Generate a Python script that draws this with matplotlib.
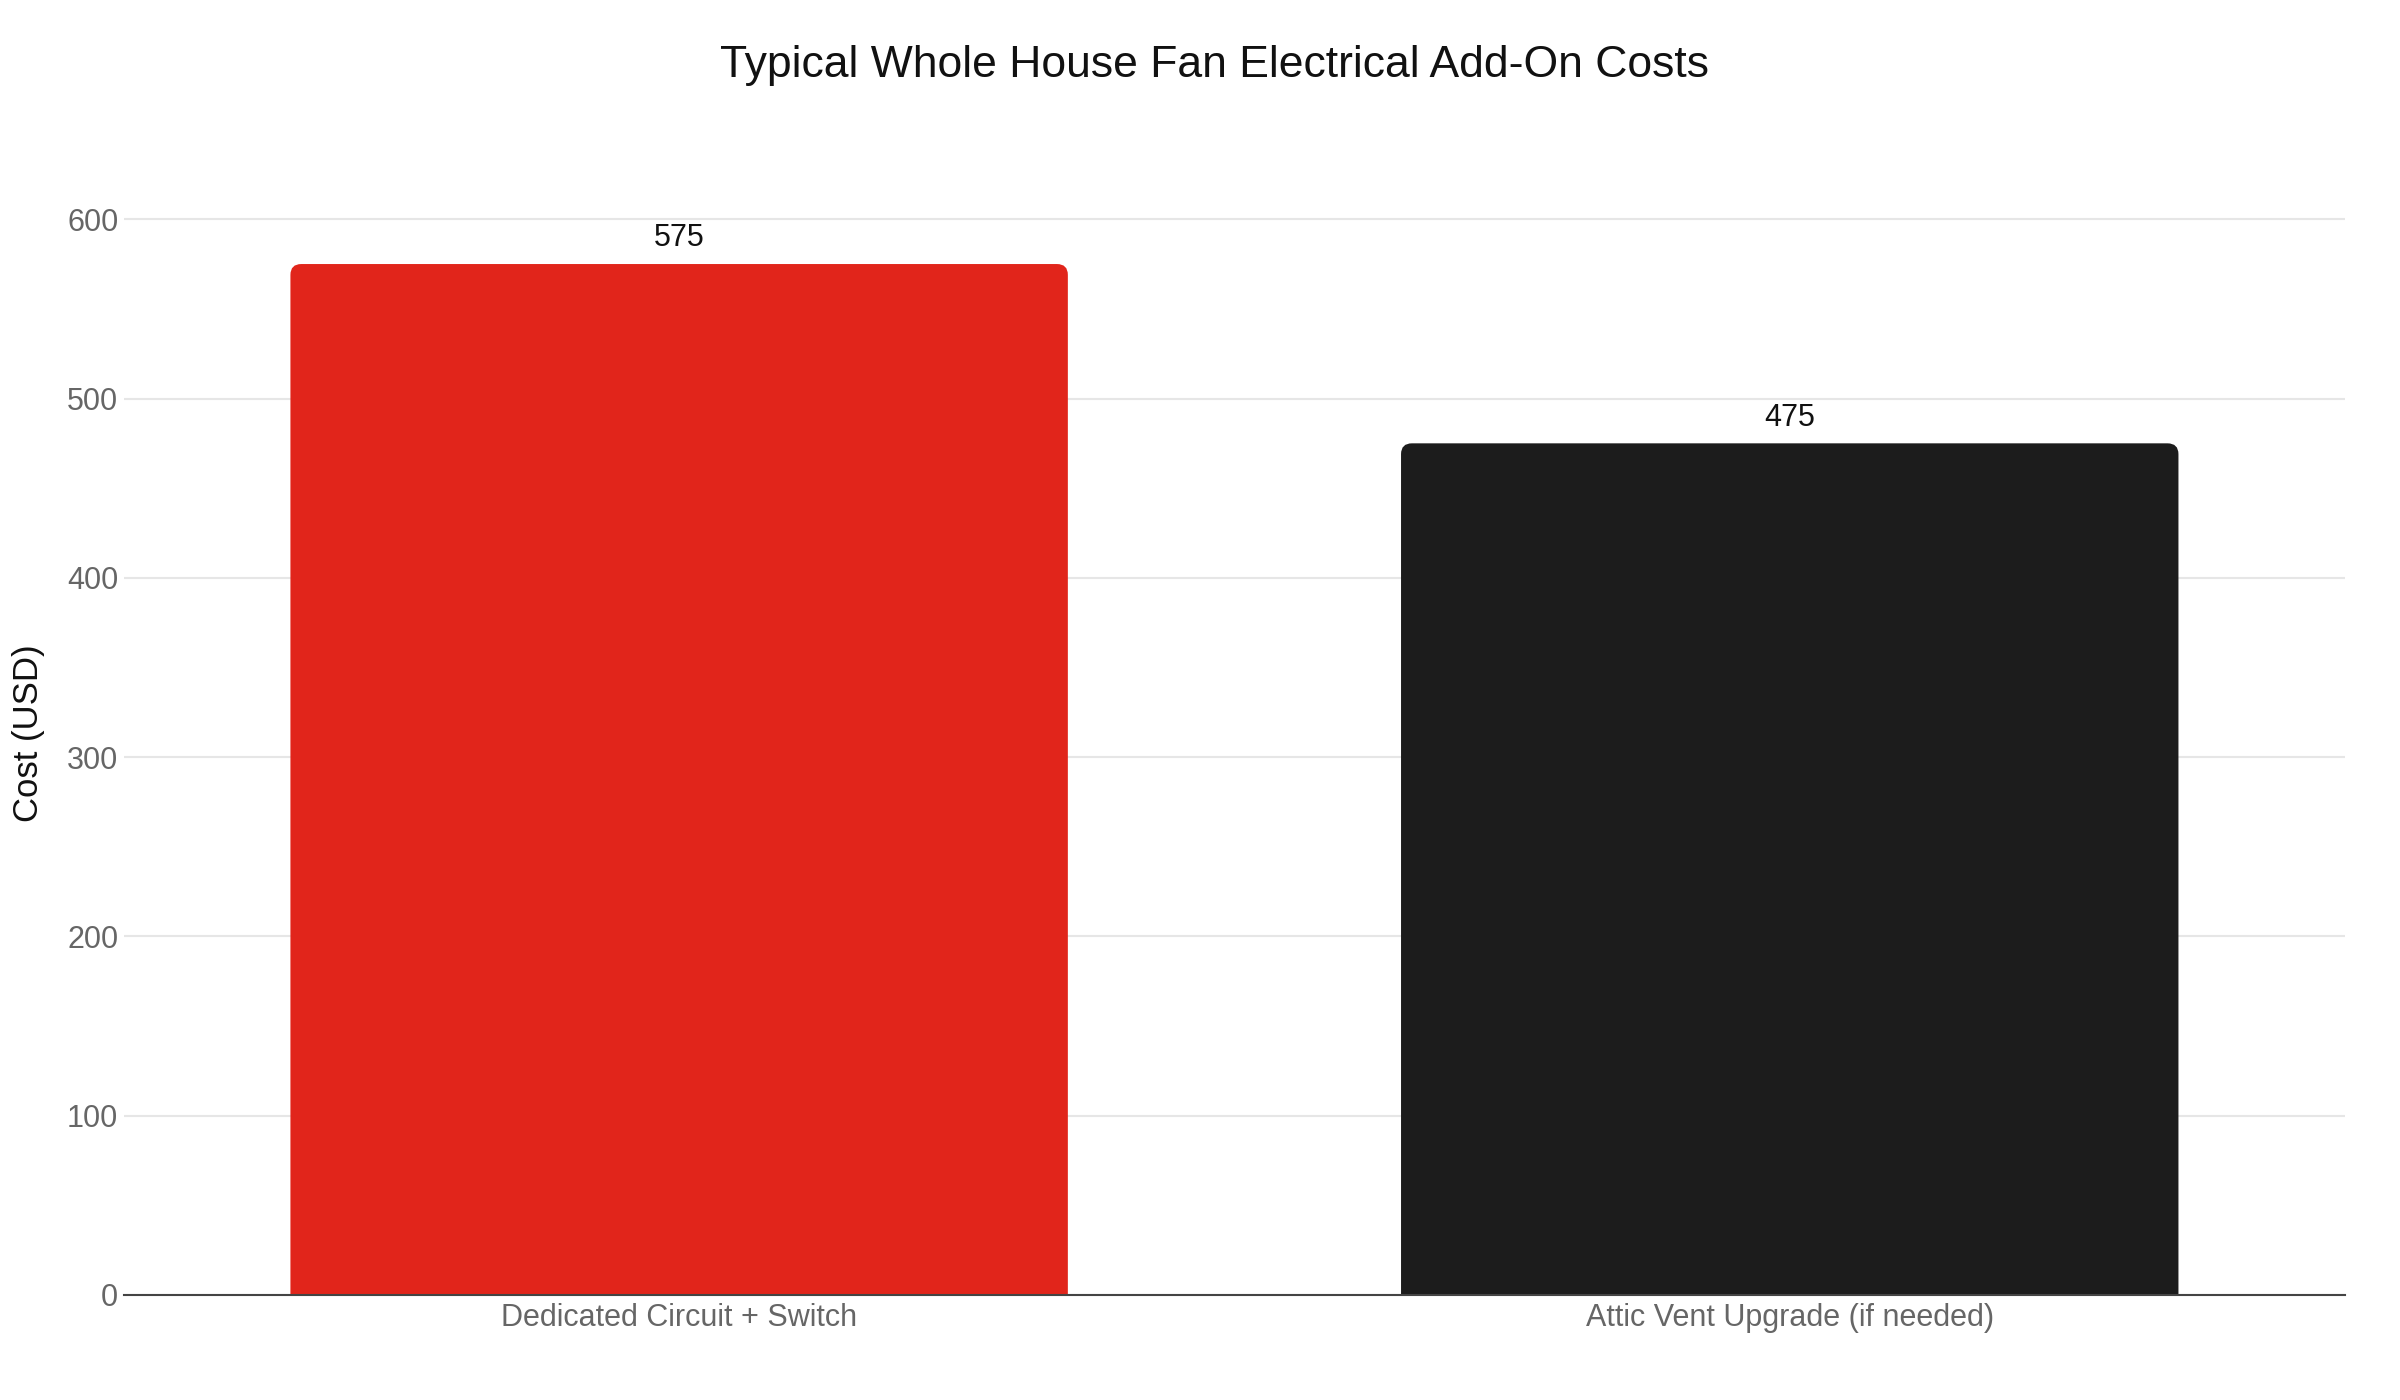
import matplotlib
matplotlib.use("Agg")
import matplotlib.pyplot as plt
from matplotlib.patches import FancyBboxPatch

plt.rcParams['font.family'] = ['Liberation Sans', 'DejaVu Sans']

categories = ["Dedicated Circuit + Switch", "Attic Vent Upgrade (if needed)"]
costs = [575, 475]
colors = ["#E1251B", "#1C1C1C"]

fig = plt.figure(figsize=(24, 14), dpi=100)
ax = fig.add_axes([0.0516, 0.075, 0.9255, 0.803])

x = list(range(len(categories)))
bars = ax.bar(x, costs, width=0.7, color=colors)

ax.set_xlim(-0.5, len(categories) - 0.5)
ax.set_ylim(0, 627)

# swap plain bars for ones with rounded top corners
rx = 0.0098
ry = 6.0
for b, c in zip(bars, colors):
    b.set_visible(False)
    p = FancyBboxPatch((b.get_x(), -ry * 2), b.get_width(), b.get_height() + ry * 2,
                       boxstyle="round,pad=0,rounding_size=%f" % rx,
                       mutation_aspect=ry / rx, facecolor=c, edgecolor="none",
                       zorder=2)
    ax.add_patch(p)
    ax.text(b.get_x() + b.get_width() / 2, b.get_height() + 6, str(int(b.get_height())),
            ha="center", va="bottom", fontsize=22, color="#111111")

ax.set_yticks([0, 100, 200, 300, 400, 500, 600])
ax.set_xticks(x)
ax.set_xticklabels(categories)
ax.tick_params(axis="both", length=0, labelsize=22, labelcolor="#666666")
ax.tick_params(axis="y", pad=4)
ax.tick_params(axis="x", pad=6)
ax.grid(axis="y", color="#E6E6E6", linewidth=1.5, zorder=0)
ax.set_axisbelow(True)
for s in ["top", "right", "left"]:
    ax.spines[s].set_visible(False)
ax.spines["bottom"].set_color("#444444")
ax.spines["bottom"].set_linewidth(1.5)
ax.spines["bottom"].set_zorder(3)

ax.set_ylabel("Cost (USD)", fontsize=25, color="#111111", labelpad=16)
fig.text(0.506, 0.9535, "Typical Whole House Fan Electrical Add-On Costs",
         ha="center", va="center", fontsize=32, color="#111111")

fig.savefig("out.png", dpi=100)
